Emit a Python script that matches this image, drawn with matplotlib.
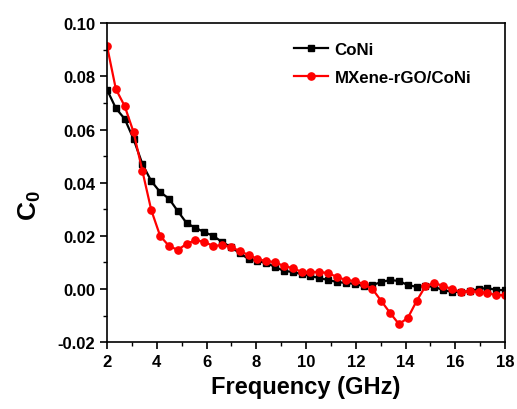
import numpy as np
import matplotlib
matplotlib.use("Agg")
import matplotlib.pyplot as plt
from matplotlib.ticker import MultipleLocator, FormatStrFormatter

plt.rcParams["font.family"] = ["Liberation Sans", "DejaVu Sans"]
plt.rcParams["font.weight"] = "bold"
plt.rcParams["mathtext.fontset"] = "custom"
plt.rcParams["mathtext.bf"] = "Liberation Sans:bold"
plt.rcParams["mathtext.rm"] = "Liberation Sans:bold"

# ── Data ─────────────────────────────────────────────────────────────────────
freq = np.linspace(2, 18, 46)

coni = [0.0750, 0.0680, 0.0640, 0.0564, 0.0470, 0.0406, 0.0365, 0.0340, 0.0293, 0.0248,
        0.0230, 0.0214, 0.0200, 0.0177, 0.0158, 0.0135, 0.0113, 0.0105, 0.0098, 0.0083,
        0.0068, 0.0064, 0.0056, 0.0049, 0.0041, 0.0034, 0.0026, 0.0023, 0.0019, 0.0011,
        0.0015, 0.0026, 0.0034, 0.0030, 0.0015, 0.0008, 0.0011, 0.0008, -0.0004, -0.0011,
        -0.0011, -0.0008, 0.0000, 0.0004, -0.0004, -0.0004]

mxene = [0.0914, 0.0752, 0.0688, 0.0590, 0.0444, 0.0297, 0.0200, 0.0162, 0.0147, 0.0170,
         0.0184, 0.0177, 0.0162, 0.0165, 0.0158, 0.0143, 0.0128, 0.0113, 0.0105, 0.0101,
         0.0086, 0.0079, 0.0064, 0.0064, 0.0064, 0.0060, 0.0045, 0.0034, 0.0030, 0.0019,
         0.0000, -0.0045, -0.0090, -0.0132, -0.0109, -0.0045, 0.0011, 0.0023, 0.0011, 0.0000,
         -0.0011, -0.0008, -0.0011, -0.0015, -0.0023, -0.0023]

# ── Plot ─────────────────────────────────────────────────────────────────────
fig = plt.figure(figsize=(5.17, 4.10), dpi=100, facecolor="white")
ax = fig.add_axes([0.207, 0.163, 0.770, 0.778])

ax.plot(freq, coni, color="black", marker="s", markersize=4.8, linewidth=1.6, label="CoNi")
ax.plot(freq, mxene, color="red", marker="o", markersize=5.2, linewidth=1.6, label="MXene-rGO/CoNi")

ax.set_xlim(2, 18)
ax.set_ylim(-0.02, 0.10)
ax.xaxis.set_major_locator(MultipleLocator(2))
ax.xaxis.set_minor_locator(MultipleLocator(1))
ax.yaxis.set_major_locator(MultipleLocator(0.02))
ax.yaxis.set_minor_locator(MultipleLocator(0.01))
ax.yaxis.set_major_formatter(FormatStrFormatter("%.2f"))
ax.xaxis.set_major_formatter(FormatStrFormatter("%d"))

ax.tick_params(which="major", direction="out", length=5, width=1.2, labelsize=12)
ax.tick_params(which="minor", direction="out", length=3, width=1.0)
for lab in ax.get_xticklabels() + ax.get_yticklabels():
    lab.set_fontweight("bold")
for sp in ax.spines.values():
    sp.set_linewidth(1.2)

ax.set_xlabel("Frequency (GHz)", fontsize=17, fontweight="bold", labelpad=4)
ax.set_ylabel(r"$\mathbf{C_0}$", fontsize=19)
ax.yaxis.set_label_coords(-0.162, 0.43)

ax.legend(loc="upper left", frameon=False, handlelength=2.0,
          bbox_to_anchor=(0.44, 0.977), borderaxespad=0.3, labelspacing=0.75,
          handletextpad=0.4, prop={"weight": "bold", "size": 12.2})

fig.savefig("out.png", dpi=100, facecolor="white")
